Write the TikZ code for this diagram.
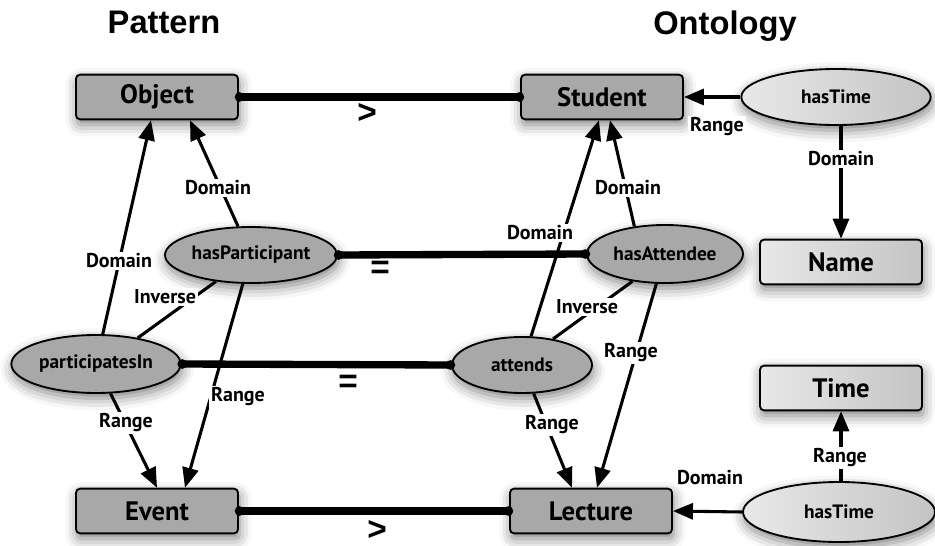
\documentclass[tikz,border=0pt]{standalone}
\usepackage{fontspec}
\setmainfont{PT Sans}
\newfontfamily\headfont{Liberation Sans}
\usetikzlibrary{shapes.geometric,arrows.meta,shadows.blur,calc}
\definecolor{boxgray}{HTML}{A8A8A8}
\definecolor{lightL}{HTML}{E8E8E8}
\definecolor{lightR}{HTML}{C4C4C4}
\tikzset{
  shade/.style={blur shadow={shadow xshift=1pt, shadow yshift=-4pt,
      shadow blur radius=9pt, shadow opacity=50}},
  classbox/.style={rectangle, rounded corners=3pt, draw=black, line width=1.4pt,
      fill=boxgray, minimum width=121.5pt, minimum height=33.5pt, inner sep=0pt,
      font=\bfseries\fontsize{20}{22}\selectfont, shade},
  litebox/.style={classbox, fill=none, left color=lightL, right color=lightR},
  prop/.style={ellipse, draw=black, line width=1.4pt, fill=boxgray, inner sep=0pt,
      font=\bfseries\fontsize{14.5}{16}\selectfont, shade},
  liteprop/.style={prop, fill=none, left color=lightL, right color=lightR},
  rel/.style={line width=2.3pt, -{Triangle[length=15pt,width=12pt]}},
  inv/.style={line width=2.3pt},
  align/.style={line width=5.5pt, {Circle[length=7pt]}-{Circle[length=7pt]},
      shorten <=-3pt, shorten >=-3pt},
  lbl/.style={fill=white, inner sep=1.5pt, font=\bfseries\fontsize{15}{17}\selectfont},
  sym/.style={inner sep=0pt, font=\headfont\bfseries\fontsize{25}{27}\selectfont},
  head/.style={anchor=base, inner sep=0pt, font=\headfont\bfseries\fontsize{24.5}{27}\selectfont}
}
\begin{document}
\begin{tikzpicture}[x=0.75pt,y=-0.75pt]
\useasboundingbox (0,0) rectangle (935,546);

% column headings
\node[head] (tpat) at (164,33) {Pattern};
\node[head] (tont) at (725,34) {Ontology};

% classes
\node[classbox] (obj) at (157,97) {Object};
\node[classbox] (stu) at (602,97) {Student};
\node[classbox] (evt) at (157,511) {Event};
\node[classbox] (lec) at (591,511) {Lecture};
\node[litebox] (name) at (841,262) {Name};
\node[litebox] (time) at (841,388) {Time};

% properties
\node[prop, minimum width=129pt, minimum height=42pt] (hp) at (251,255) {hasParticipant};
\node[prop, minimum width=127pt, minimum height=43.5pt] (pi) at (96,364) {participatesIn};
\node[prop, minimum width=117pt, minimum height=43.5pt] (ha) at (665,254) {hasAttendee};
\node[prop, minimum width=105pt, minimum height=42pt] (at) at (522,365) {attends};
\node[liteprop, minimum width=142pt, minimum height=42pt] (ht1) at (836,97) {hasTime};
\node[liteprop, minimum width=144pt, minimum height=45pt] (ht2) at (839,512) {hasTime};

% alignments between pattern and ontology
\draw[align] (obj.east) -- (stu.west);
\draw[align] (hp.east) -- (ha.west);
\draw[align] (pi.east) -- (at.west);
\draw[align] (evt.east) -- (lec.west);
\node[sym] (s1) at (367,113) {>};
\node[sym] (s2) at (380,270) {=};
\node[sym] (s3) at (348,384) {=};
\node[sym] (s4) at (377,530) {>};

% pattern side
\draw[rel] (hp) -- ($(obj.south)+(33,0)$);
\draw[rel] (pi) -- ($(obj.south)+(-6,0)$);
\draw[inv] (hp.217) -- (pi.32);
\draw[rel] (pi) -- ($(evt.north)+(0,0)$);
\draw[rel] (hp) -- ($(evt.north)+(28,0)$);

% ontology side
\draw[rel] (ha.138) -- ($(stu.south)+(8,0)$);
\draw[rel] (at) -- ($(stu.south)+(-3,0)$);
\draw[inv] (ha.220) -- (at.40);
\draw[rel] (ha) -- ($(lec.north)+(6,0)$);
\draw[rel] (at) -- ($(lec.north)+(-19,0)$);
\draw[rel] (ht1.west) -- (stu.east);
\draw[rel] (name.north |- ht1.south) -- (name.north);
\draw[rel] (time.south |- ht2.north) -- (time.south);
\draw[rel] (ht2.west) -- (lec.east);

% edge labels
\node[lbl] (l1) at (218,188) {Domain};
\node[lbl] (l2) at (119,261) {Domain};
\node[lbl] (l3) at (165,297) {Inverse};
\node[lbl] (l4) at (126,423) {Range};
\node[lbl] (l5) at (238,397) {Range};
\node[lbl] (l6) at (628,188) {Domain};
\node[lbl] (l7) at (540,233) {Domain};
\node[lbl] (l8) at (587,307) {Inverse};
\node[lbl] (l9) at (631,353) {Range};
\node[lbl] (l10) at (552,425) {Range};
\node[lbl] (l11) at (717,127) {Range};
\node[lbl] (l12) at (841,159) {Domain};
\node[lbl] (l13) at (840,458) {Range};
\node[lbl] (l14) at (710,478) {Domain};
\end{tikzpicture}
\end{document}
